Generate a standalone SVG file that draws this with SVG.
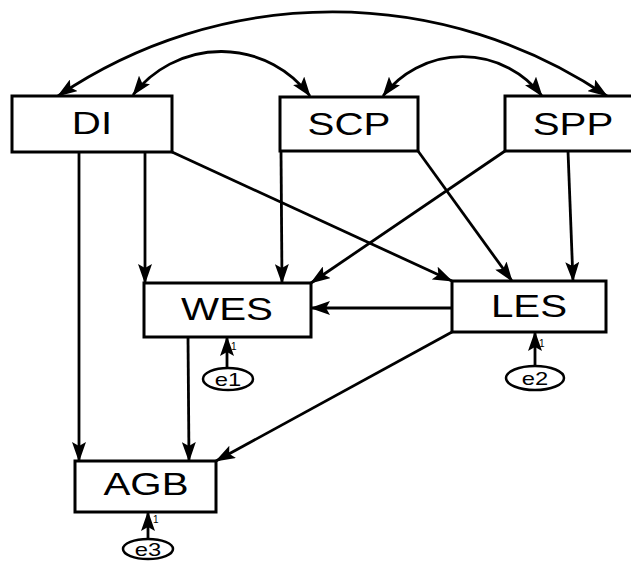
<svg xmlns="http://www.w3.org/2000/svg" width="631" height="563" viewBox="0 0 631 563">
<style>
.box{fill:#fff;stroke:#000;stroke-width:3}
.lbl{font-family:"Liberation Sans",Arial,sans-serif;font-size:31px;fill:#000;text-anchor:middle}
.elbl{font-family:"Liberation Sans",Arial,sans-serif;font-size:19px;fill:#000;text-anchor:middle}
.one{font-family:"Liberation Sans",Arial,sans-serif;font-size:10px;fill:#000}
.err{fill:#fff;stroke:#000;stroke-width:2.5}
.c{fill:none;stroke:#000;stroke-width:2.8}
.cv{fill:none;stroke:#000;stroke-width:2.8;marker-start:url(#ah2);marker-end:url(#ah)}
.st{marker-end:url(#ah)}
</style>
<defs>
<marker id="ah" markerUnits="userSpaceOnUse" viewBox="0 0 20 14" markerWidth="20" markerHeight="14" refX="19" refY="7" orient="auto">
<path d="M0,0 L20,7 L0,14 L4,7 z" fill="#000"/>
</marker>
<marker id="ah2" markerUnits="userSpaceOnUse" viewBox="0 0 20 14" markerWidth="20" markerHeight="14" refX="19" refY="7" orient="auto-start-reverse">
<path d="M0,0 L20,7 L0,14 L4,7 z" fill="#000"/>
</marker>
</defs>
<g id="connectors">
<path class="cv" d="M58,96 A490,490 0 0 1 607,96"/>
<path class="cv" d="M133,95 A111,111 0 0 1 310,96"/>
<path class="cv" d="M383,96 A100,100 0 0 1 542,96"/>
<path class="c st" d="M79,152 L79,461"/>
<path class="c st" d="M145,152 L145,283"/>
<path class="c st" d="M172,152 L452,281"/>
<path class="c st" d="M281,151 L282,283"/>
<path class="c st" d="M418,151 L512,281"/>
<path class="c st" d="M505,151 L311,283"/>
<path class="c st" d="M568,151 L573,281"/>
<path class="c st" d="M452,308 L311,308"/>
<path class="c st" d="M452,332 L216,461"/>
<path class="c st" d="M188,337 L189,461"/>
<path class="c st" d="M227,368 L227,337"/>
<path class="c st" d="M535,366 L535,332"/>
<path class="c st" d="M148,539 L148,512"/>
</g>
<g id="DI"><rect class="box" x="12" y="96" width="160" height="56"/><text class="lbl" transform="translate(92,134) scale(1.3,1)">DI</text></g>
<g id="SCP"><rect class="box" x="280" y="97" width="138" height="54"/><text class="lbl" transform="translate(349,135) scale(1.3,1)">SCP</text></g>
<g id="SPP"><rect class="box" x="505" y="96" width="136" height="55"/><text class="lbl" transform="translate(573,135) scale(1.3,1)">SPP</text></g>
<g id="WES"><rect class="box" x="144" y="283" width="167" height="54"/><text class="lbl" transform="translate(227,320) scale(1.3,1)">WES</text></g>
<g id="LES"><rect class="box" x="452" y="281" width="154" height="51"/><text class="lbl" transform="translate(529,317) scale(1.3,1)">LES</text></g>
<g id="AGB"><rect class="box" x="75" y="461" width="141" height="51"/><text class="lbl" transform="translate(146,495) scale(1.3,1)">AGB</text></g>
<g id="e1"><ellipse class="err" cx="228" cy="379" rx="25" ry="11"/><text class="elbl" transform="translate(228,386) scale(1.25,1)">e1</text><text class="one" x="231" y="350">1</text></g>
<g id="e2"><ellipse class="err" cx="535" cy="378" rx="29" ry="12"/><text class="elbl" transform="translate(535,385) scale(1.25,1)">e2</text><text class="one" x="539" y="347">1</text></g>
<g id="e3"><ellipse class="err" cx="148" cy="549" rx="25" ry="10"/><text class="elbl" transform="translate(148,556) scale(1.25,1)">e3</text><text class="one" x="153" y="523">1</text></g>
</svg>
